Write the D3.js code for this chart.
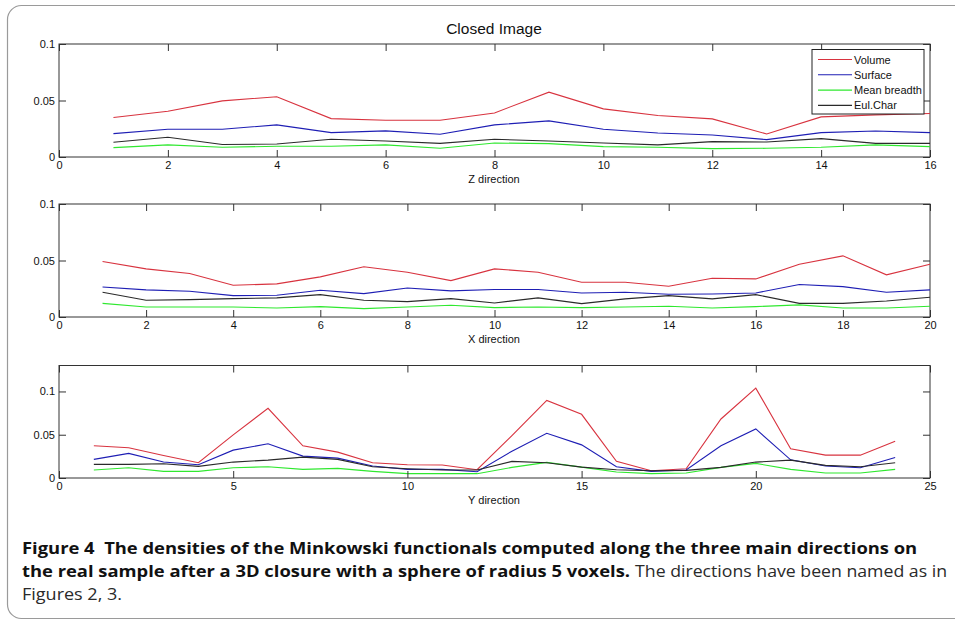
<!DOCTYPE html>
<html>
<head>
<meta charset="utf-8">
<script src="https://cdn.jsdelivr.net/npm/d3@7"></script>
<style>
  body { margin: 0; background: #fff; }
  svg { display: block; }
  .tick text { font-family: "Liberation Sans", Arial, sans-serif; font-size: 11px; fill: #111; }
  .tick line { stroke: #333; }
</style>
</head>
<body>
<div id="chart"></div>
<script>
// Z direction (16 slices)
const zSlices = [1,2,3,4,5,6,7,8,9,10,11,12,13,14,15,16]
const zVolume = [0.0349,0.0405,0.0497,0.0533,0.0340,0.0325,0.0325,0.0390,0.0574,0.0426,0.0367,0.0337,0.0204,0.0355,0.0373,0.0385]
const zSurface = [0.0207,0.0246,0.0246,0.0284,0.0216,0.0231,0.0201,0.0284,0.0320,0.0246,0.0213,0.0195,0.0154,0.0216,0.0230,0.0216]
const zBreadth = [0.0083,0.0107,0.0086,0.0095,0.0095,0.0107,0.0077,0.0124,0.0118,0.0092,0.0086,0.0074,0.0077,0.0086,0.0107,0.0092]
const zEuler = [0.0130,0.0175,0.0110,0.0115,0.0157,0.0142,0.0121,0.0157,0.0142,0.0124,0.0107,0.0136,0.0133,0.0163,0.0121,0.0121]

// X direction (20 slices)
const xSlices = [1,2,3,4,5,6,7,8,9,10,11,12,13,14,15,16,17,18,19,20]
const xVolume = [0.0491,0.0426,0.0385,0.0281,0.0293,0.0355,0.0444,0.0396,0.0322,0.0426,0.0396,0.0308,0.0308,0.0272,0.0343,0.0337,0.0467,0.0541,0.0373,0.0467]
const xSurface = [0.0266,0.0240,0.0228,0.0189,0.0192,0.0237,0.0207,0.0257,0.0231,0.0243,0.0243,0.0213,0.0219,0.0201,0.0204,0.0213,0.0287,0.0269,0.0219,0.0240]
const xBreadth = [0.0121,0.0089,0.0089,0.0089,0.0080,0.0092,0.0074,0.0089,0.0104,0.0083,0.0089,0.0083,0.0089,0.0095,0.0080,0.0092,0.0107,0.0080,0.0080,0.0095]
const xEuler = [0.0219,0.0148,0.0154,0.0163,0.0169,0.0198,0.0148,0.0136,0.0163,0.0124,0.0169,0.0118,0.0160,0.0189,0.0160,0.0198,0.0121,0.0121,0.0142,0.0175]

// Y direction (24 slices)
const ySlices = [1,2,3,4,5,6,7,8,9,10,11,12,13,14,15,16,17,18,19,20,21,22,23,24]
const yVolume = [0.0372,0.0349,0.0260,0.0176,0.0498,0.0805,0.0372,0.0299,0.0176,0.0153,0.0150,0.0096,0.0490,0.0897,0.0736,0.0192,0.0084,0.0107,0.0682,0.1038,0.0337,0.0264,0.0264,0.0425]
const ySurface = [0.0215,0.0284,0.0184,0.0153,0.0322,0.0395,0.0253,0.0230,0.0138,0.0100,0.0100,0.0073,0.0310,0.0517,0.0383,0.0130,0.0077,0.0092,0.0372,0.0567,0.0210,0.0138,0.0119,0.0238]
const yBreadth = [0.0092,0.0119,0.0077,0.0077,0.0119,0.0130,0.0100,0.0111,0.0077,0.0050,0.0050,0.0050,0.0123,0.0180,0.0126,0.0069,0.0050,0.0057,0.0123,0.0169,0.0100,0.0057,0.0057,0.0100]
const yEuler = [0.0157,0.0157,0.0165,0.0134,0.0184,0.0207,0.0241,0.0215,0.0130,0.0107,0.0092,0.0092,0.0192,0.0176,0.0126,0.0096,0.0084,0.0088,0.0123,0.0184,0.0207,0.0146,0.0130,0.0176]

const seriesNames = ["Volume","Surface","Mean breadth","Eul.Char"]
const seriesColors = ["#d8333f","#1e1eb4","#2fe82f","#2a2a2a"]

const zTicks = [0,2,4,6,8,10,12,14,16]
const xTicks = [0,2,4,6,8,10,12,14,16,18,20]
const yTicks = [0,5,10,15,20,25]
const valueTicks = [0,0.05,0.1]

const width = 955
const height = 623
const left = 59
const right = 930

let svg = d3.select("#chart")
  .append("svg")
  .attr("width", width)
  .attr("height", height)

//rounded frame around the figure
svg.append("rect")
  .attr("x", 7.5)
  .attr("y", 5.5)
  .attr("width", 990)
  .attr("height", 613)
  .attr("rx", 14)
  .attr("fill", "none")
  .attr("stroke", "#9a9a9a")
  .attr("stroke-width", 1.2)

svg.append("text")
  .text("Closed Image")
  .attr("x", 494)
  .attr("y", 34)
  .style("text-anchor", "middle")
  .style("font-family", "Liberation Sans, Arial, sans-serif")
  .style("font-size", "15.5px")
  .style("fill", "#111")

function drawPanel(top, bottom, xMax, yMax, xTickValues, slices, series, label){
  let x = d3.scaleLinear()
    .domain([0, xMax])
    .range([left, right])
  let y = d3.scaleLinear()
    .domain([0, yMax])
    .range([bottom, top])

  let g = svg.append("g")

  g.append("rect")
    .attr("x", left)
    .attr("y", top)
    .attr("width", right - left)
    .attr("height", bottom - top)
    .attr("fill", "#fff")
    .attr("stroke", "#333")
    .attr("stroke-width", 1)

  //lines
  series.forEach((values, i) => {
    let line = d3.line()
      .x((d, j) => x(slices[j]))
      .y(d => y(d))
    g.append("path")
      .datum(values)
      .attr("d", line)
      .attr("fill", "none")
      .attr("stroke", seriesColors[i])
      .attr("stroke-width", 1.1)
  })

  //axes with inward ticks on all four sides
  g.append("g")
    .attr("transform", "translate(0," + bottom + ")")
    .call(d3.axisBottom(x).tickValues(xTickValues).tickSize(-7).tickPadding(4).tickFormat(d3.format("d")))
    .call(a => a.select(".domain").remove())
  g.append("g")
    .attr("transform", "translate(0," + top + ")")
    .call(d3.axisTop(x).tickValues(xTickValues).tickSize(-7).tickFormat(""))
    .call(a => a.select(".domain").remove())
  g.append("g")
    .attr("transform", "translate(" + left + ",0)")
    .call(d3.axisLeft(y).tickValues(valueTicks).tickSize(-7).tickPadding(4).tickFormat(d => d == 0 ? "0" : String(d)))
    .call(a => a.select(".domain").remove())
  g.append("g")
    .attr("transform", "translate(" + right + ",0)")
    .call(d3.axisRight(y).tickValues(valueTicks).tickSize(-7).tickFormat(""))
    .call(a => a.select(".domain").remove())

  g.append("text")
    .text(label)
    .attr("x", 494)
    .attr("y", bottom + 26)
    .style("text-anchor", "middle")
    .style("font-family", "Liberation Sans, Arial, sans-serif")
    .style("font-size", "11px")
    .style("fill", "#111")
}

drawPanel(44, 157, 16, 0.1, zTicks, zSlices, [zVolume, zSurface, zBreadth, zEuler], "Z direction")
drawPanel(204, 317, 20, 0.1, xTicks, xSlices, [xVolume, xSurface, xBreadth, xEuler], "X direction")
drawPanel(365.5, 478, 25, 0.13, yTicks, ySlices, [yVolume, ySurface, yBreadth, yEuler], "Y direction")

//legend
let legend = svg.append("g")
legend.append("rect")
  .attr("x", 812)
  .attr("y", 49.5)
  .attr("width", 112)
  .attr("height", 64.5)
  .attr("fill", "#fff")
  .attr("stroke", "#222")
legend.selectAll("line.item")
  .data(seriesNames)
  .enter()
  .append("line")
  .attr("x1", 818)
  .attr("x2", 852)
  .attr("y1", (d, i) => 59.5 + i * 15.3)
  .attr("y2", (d, i) => 59.5 + i * 15.3)
  .attr("stroke", (d, i) => seriesColors[i])
  .attr("stroke-width", 1.1)
legend.selectAll("text")
  .data(seriesNames)
  .enter()
  .append("text")
  .text(d => d)
  .attr("x", 854)
  .attr("y", (d, i) => 63.5 + i * 15.3)
  .style("font-family", "Liberation Sans, Arial, sans-serif")
  .style("font-size", "11px")
  .style("fill", "#111")

//caption, bold parts squeezed horizontally to match the condensed journal font
let capFont = "Open Sans, Noto Sans, sans-serif"
let caption = svg.append("g")
let line1 = caption.append("text")
  .attr("x", 0)
  .attr("y", 554.5)
  .style("font-family", capFont)
  .style("font-size", "16px")
  .style("font-weight", "bold")
  .style("fill", "#111")
  .attr("xml:space", "preserve")
  .text("Figure 4  The densities of the Minkowski functionals computed along the three main directions on")
let bold2 = caption.append("text")
  .attr("x", 0)
  .attr("y", 577)
  .style("font-family", capFont)
  .style("font-size", "16px")
  .style("font-weight", "bold")
  .style("fill", "#111")
  .text("the real sample after a 3D closure with a sphere of radius 5 voxels.")

let k = 896 / line1.node().getComputedTextLength()
caption.attr("transform", "translate(22,0) scale(" + k + ",1)")

let restX = 22 + k * bold2.node().getComputedTextLength() + 5
svg.append("text")
  .attr("x", restX)
  .attr("y", 577)
  .attr("textLength", 947 - restX)
  .attr("lengthAdjust", "spacingAndGlyphs")
  .style("font-family", capFont)
  .style("font-size", "16px")
  .style("fill", "#2a2a2a")
  .text("The directions have been named as in")
svg.append("text")
  .attr("x", 22)
  .attr("y", 600)
  .attr("textLength", 100)
  .attr("lengthAdjust", "spacingAndGlyphs")
  .style("font-family", capFont)
  .style("font-size", "16px")
  .style("fill", "#2a2a2a")
  .text("Figures 2, 3.")
</script>
</body>
</html>
